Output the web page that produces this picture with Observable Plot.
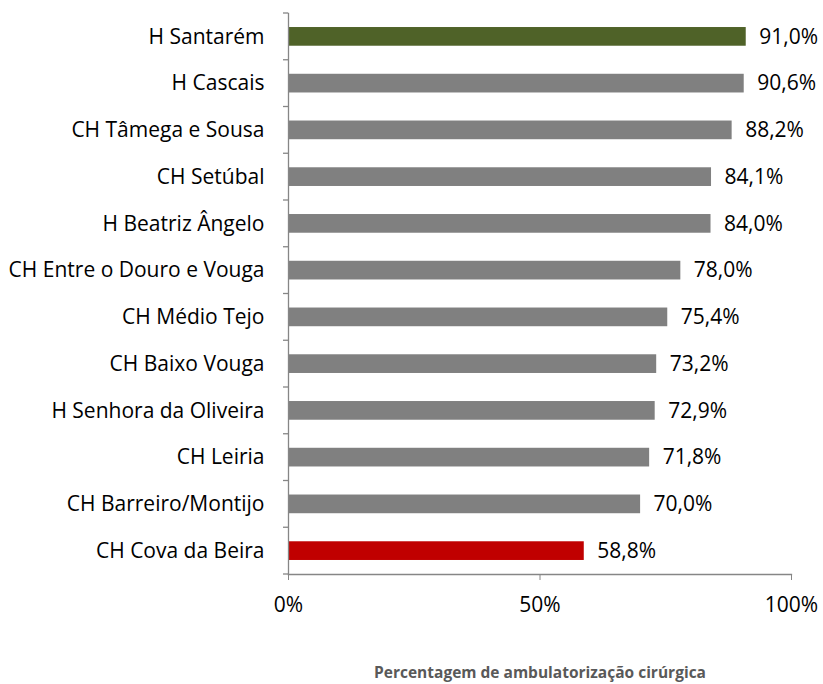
<!DOCTYPE html>
<html><head><meta charset="utf-8">
<script src="https://cdn.jsdelivr.net/npm/d3@7"></script>
<script src="https://cdn.jsdelivr.net/npm/@observablehq/plot@0.6"></script>
<style>body{margin:0;background:#fff}</style>
</head><body><div id="chart"></div>
<script>
const hospitals = ["H Santarém","H Cascais","CH Tâmega e Sousa","CH Setúbal","H Beatriz Ângelo","CH Entre o Douro e Vouga","CH Médio Tejo","CH Baixo Vouga","H Senhora da Oliveira","CH Leiria","CH Barreiro/Montijo","CH Cova da Beira"];
const values = [91.0, 90.6, 88.2, 84.1, 84.0, 78.0, 75.4, 73.2, 72.9, 71.8, 70.0, 58.8];
const xTicks = [0, 50, 100];
const xTitle = "Percentagem de ambulatorização cirúrgica";

const data = hospitals.map((h, i) => ({h, v: values[i], i}));
const GREEN = "#4F6228", GRAY = "#808080", RED = "#C00000", AXIS = "#868686";
const fillOf = d => d.i === 0 ? GREEN : d.i === data.length - 1 ? RED : GRAY;
const fmt = v => v.toFixed(1).replace(".", ",") + "%";

// Excel-style category boundary ticks on the y axis
const boundaryTicks = (index, scales) => {
  const y = scales.y, x = scales.x;
  const bw = typeof y.bandwidth === "function" ? y.bandwidth() : y.bandwidth;
  const step = y(hospitals[1]) - y(hospitals[0]);
  const x0 = x(0);
  const g = d3.create("svg:g").attr("stroke", AXIS).attr("stroke-width", 1.3);
  const ys = hospitals.map(c => y(c) + bw / 2 - step / 2);
  ys.push(ys[ys.length - 1] + step);
  for (const yy of ys) g.append("line").attr("x1", x0 - 5).attr("x2", x0).attr("y1", yy).attr("y2", yy);
  return g.node();
};

const chart = Plot.plot({
  width: 823,
  height: 684,
  marginLeft: 288,
  marginRight: 32,
  marginTop: 13,
  marginBottom: 110,
  style: {fontFamily: "'Open Sans', sans-serif", fontSize: "21px", color: "#000", background: "#fff"},
  x: {domain: [0, 100]},
  y: {domain: hospitals, paddingInner: 0.6, paddingOuter: 0.3, round: false},
  marks: [
    Plot.barX(data, {x: "v", y: "h", fill: fillOf}),
    Plot.text(data, {x: "v", y: "h", text: d => fmt(d.v), textAnchor: "start", dx: 13, fill: "#000", fontSize: 21}),
    Plot.frame({anchor: "left", stroke: AXIS, strokeWidth: 1.3}),
    Plot.frame({anchor: "bottom", stroke: AXIS, strokeWidth: 1.3}),
    boundaryTicks,
    Plot.axisY({tickSize: 0, tickPadding: 24, label: null, fontSize: 21, fill: "#000"}),
    Plot.axisX({ticks: xTicks, tickFormat: d => d + "%", tickSize: 6, tickPadding: 17, stroke: AXIS, label: null, fontSize: 21, fill: "#000"}),
    Plot.text([xTitle], {frameAnchor: "bottom", x: 50, dy: 99, text: d => d, fontWeight: "bold", fill: "#595959", fontSize: 15.5, lineAnchor: "middle"})
  ]
});
document.getElementById("chart").append(chart);
</script>
</body></html>
